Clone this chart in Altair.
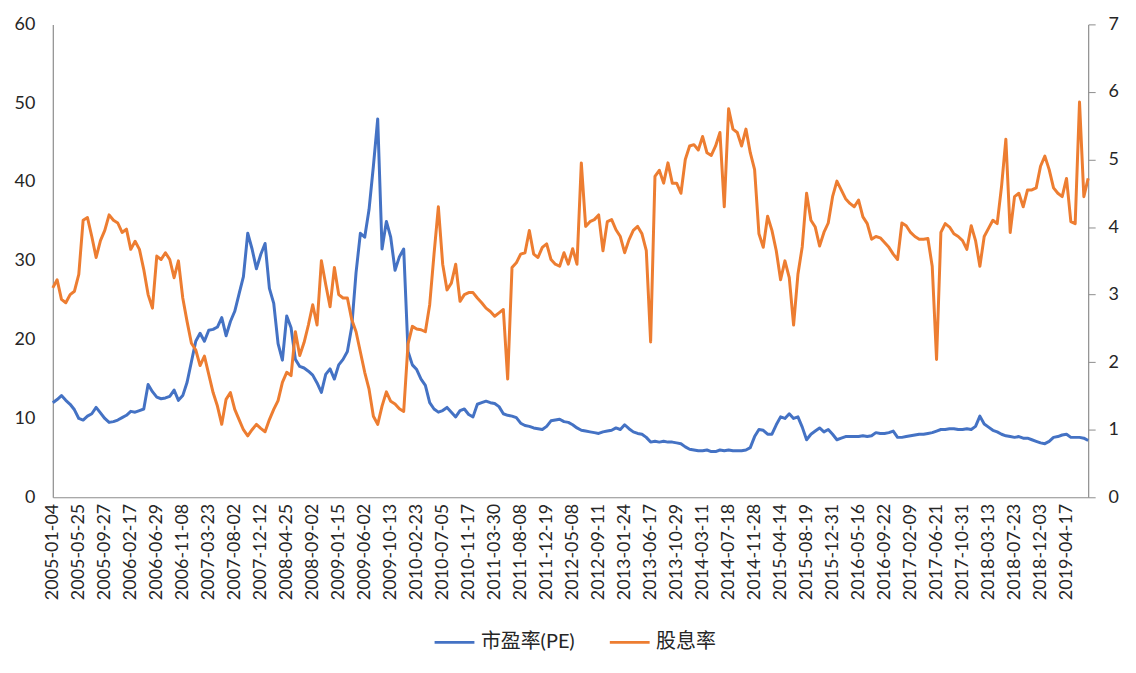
import altair as alt
import pandas as pd

# x-axis category labels (one every 6 samples)
date_labels = [
    "2005-01-04", "2005-05-25", "2005-09-27", "2006-02-17", "2006-06-29",
    "2006-11-08", "2007-03-23", "2007-08-02", "2007-12-12", "2008-04-25",
    "2008-09-02", "2009-01-15", "2009-06-02", "2009-10-13", "2010-02-23",
    "2010-07-05", "2010-11-17", "2011-03-30", "2011-08-08", "2011-12-19",
    "2012-05-08", "2012-09-11", "2013-01-24", "2013-06-17", "2013-10-29",
    "2014-03-11", "2014-07-18", "2014-11-28", "2015-04-14", "2015-08-19",
    "2015-12-31", "2016-05-16", "2016-09-22", "2017-02-09", "2017-06-21",
    "2017-10-31", "2018-03-13", "2018-07-23", "2018-12-03", "2019-04-17",
]
STEP = 6

series_names = ["市盈率(PE)", "股息率"]
series_colors = ["#4472C4", "#ED7D31"]

pe = [
    12.0, 12.4, 12.9, 12.3, 11.8, 11.1, 10.0, 9.8, 10.3, 10.6,
    11.4, 10.7, 10.0, 9.5, 9.6, 9.8, 10.1, 10.4, 10.9, 10.8,
    11.0, 11.2, 14.3, 13.4, 12.7, 12.5, 12.6, 12.8, 13.6, 12.3,
    12.9, 14.6, 17.2, 19.8, 20.8, 19.8, 21.2, 21.3, 21.6, 22.8,
    20.5, 22.3, 23.6, 25.8, 28.0, 33.5, 31.5, 29.0, 30.8, 32.2,
    26.5, 24.6, 19.5, 17.4, 23.0, 21.5, 17.5, 16.6, 16.4, 16.0,
    15.5, 14.5, 13.3, 15.6, 16.3, 15.0, 16.8, 17.5, 18.5, 21.6,
    28.5, 33.5, 33.0, 36.5, 42.0, 48.0, 31.5, 35.0, 33.0, 28.8,
    30.5, 31.5, 18.5, 16.8, 16.2, 15.0, 14.2, 12.0, 11.2, 10.8,
    11.0, 11.4, 10.8, 10.2, 11.0, 11.2, 10.5, 10.2, 11.8, 12.0,
    12.2, 12.0, 11.9, 11.5, 10.6, 10.4, 10.3, 10.1, 9.4, 9.1,
    9.0, 8.8, 8.7, 8.6, 9.0, 9.7, 9.8, 9.9, 9.6, 9.5,
    9.2, 8.8, 8.5, 8.4, 8.3, 8.2, 8.1, 8.3, 8.4, 8.5,
    8.8, 8.6, 9.2, 8.7, 8.3, 8.1, 8.0, 7.6, 7.0, 7.1,
    7.0, 7.1, 7.0, 7.0, 6.9, 6.8, 6.4, 6.1, 6.0, 5.9,
    5.9, 6.0, 5.8, 5.8, 6.0, 5.9, 6.0, 5.9, 5.9, 5.9,
    6.0, 6.3, 7.7, 8.6, 8.5, 8.0, 8.0, 9.2, 10.2, 10.0,
    10.6, 10.0, 10.2, 8.9, 7.3, 8.0, 8.4, 8.8, 8.3, 8.6,
    8.0, 7.3, 7.5, 7.7, 7.7, 7.7, 7.7, 7.8, 7.7, 7.8,
    8.2, 8.1, 8.1, 8.2, 8.4, 7.6, 7.6, 7.7, 7.8, 7.9,
    8.0, 8.0, 8.1, 8.2, 8.4, 8.6, 8.6, 8.7, 8.7, 8.6,
    8.6, 8.7, 8.6, 9.0, 10.3, 9.3, 8.9, 8.5, 8.3, 8.0,
    7.8, 7.7, 7.6, 7.7, 7.5, 7.5, 7.3, 7.1, 6.9, 6.8,
    7.1, 7.6, 7.7, 7.9, 8.0, 7.6, 7.6, 7.6, 7.5, 7.2,
]

dy = [
    3.10, 3.22, 2.93, 2.88, 3.00, 3.05, 3.30, 4.10, 4.14, 3.86,
    3.55, 3.80, 3.95, 4.18, 4.10, 4.06, 3.92, 3.97, 3.67, 3.79,
    3.67, 3.37, 3.00, 2.80, 3.57, 3.52, 3.62, 3.52, 3.25, 3.50,
    2.95, 2.60, 2.28, 2.18, 1.95, 2.09, 1.82, 1.55, 1.35, 1.08,
    1.45, 1.55, 1.30, 1.15, 1.00, 0.91, 1.00, 1.08, 1.02, 0.97,
    1.15, 1.30, 1.43, 1.70, 1.85, 1.80, 2.45, 2.10, 2.29, 2.55,
    2.85, 2.55, 3.50, 3.15, 2.82, 3.40, 3.00, 2.95, 2.95, 2.63,
    2.45, 2.15, 1.85, 1.60, 1.20, 1.08, 1.35, 1.56, 1.42, 1.38,
    1.31, 1.27, 2.27, 2.53, 2.49, 2.48, 2.45, 2.85, 3.60, 4.30,
    3.45, 3.07, 3.17, 3.45, 2.90, 3.00, 3.03, 3.03, 2.95, 2.88,
    2.80, 2.75, 2.68, 2.73, 2.78, 1.75, 3.40, 3.47, 3.60, 3.62,
    3.95, 3.60, 3.55, 3.70, 3.75, 3.52, 3.45, 3.42, 3.62, 3.45,
    3.68, 3.45, 4.95, 4.01, 4.08, 4.11, 4.18, 3.65, 4.08, 4.11,
    3.96, 3.86, 3.62, 3.81, 3.95, 4.01, 3.90, 3.65, 2.30, 4.75,
    4.84, 4.65, 4.95, 4.65, 4.65, 4.50, 5.00, 5.20, 5.22, 5.14,
    5.34, 5.10, 5.06, 5.20, 5.40, 4.30, 5.75, 5.45, 5.40, 5.20,
    5.45, 5.10, 4.85, 3.90, 3.70, 4.16, 3.95, 3.65, 3.22, 3.50,
    3.25, 2.55, 3.30, 3.71, 4.50, 4.10, 4.00, 3.72, 3.92, 4.06,
    4.45, 4.68, 4.55, 4.42, 4.35, 4.30, 4.40, 4.15, 4.05, 3.82,
    3.86, 3.84, 3.77, 3.70, 3.60, 3.52, 4.06, 4.02, 3.92, 3.86,
    3.82, 3.82, 3.83, 3.42, 2.04, 3.92, 4.05, 4.00, 3.90, 3.86,
    3.80, 3.67, 4.02, 3.80, 3.42, 3.86, 3.98, 4.10, 4.05, 4.60,
    5.30, 3.92, 4.45, 4.50, 4.30, 4.55, 4.55, 4.58, 4.90, 5.05,
    4.85, 4.58, 4.50, 4.45, 4.72, 4.08, 4.05, 5.85, 4.45, 4.72,
]

n = len(pe)
rows = []
for i in range(n):
    rows.append({"i": i, "series": series_names[0], "value": pe[i]})
for i in range(n):
    rows.append({"i": i, "series": series_names[1], "value": dy[i]})
df = pd.DataFrame(rows)

label_js = "[" + ",".join("'" + d + "'" for d in date_labels) + "]"
tick_vals = [k * STEP for k in range(len(date_labels))]

AXIS_GRAY = "#8C8C8C"
TEXT = "#262626"
FONT = "Lato, 'Noto Sans CJK SC'"

x_enc = alt.X(
    "i:Q",
    scale=alt.Scale(domain=[0, n - 1], nice=False, zero=False),
    axis=alt.Axis(
        values=tick_vals,
        labelExpr=label_js + "[round(datum.value/" + str(STEP) + ")]",
        labelAngle=-90,
        labelPadding=6,
        ticks=False,
        grid=False,
        title=None,
        domainColor=AXIS_GRAY,
        labelOverlap=False,
        labelFlush=False,
    ),
)

color_enc = alt.Color(
    "series:N",
    scale=alt.Scale(domain=series_names, range=series_colors),
    legend=alt.Legend(
        orient="none",
        legendX=382,
        legendY=599,
        direction="horizontal",
        title=None,
        symbolType="stroke",
        symbolSize=1600,
        symbolStrokeWidth=3,
        labelFontSize=20,
        labelFont=FONT,
        labelColor=TEXT,
        labelOffset=5,
        columnPadding=28,
    ),
)

pe_line = (
    alt.Chart(df)
    .transform_filter(alt.datum.series == series_names[0])
    .mark_line(strokeWidth=3, strokeJoin="round")
    .encode(
        x=x_enc,
        y=alt.Y(
            "value:Q",
            scale=alt.Scale(domain=[0, 60], nice=False),
            axis=alt.Axis(
                values=[0, 10, 20, 30, 40, 50, 60],
                ticks=False,
                labelPadding=18,
                grid=False,
                title=None,
                domainColor=AXIS_GRAY,
            ),
        ),
        color=color_enc,
    )
)

dy_line = (
    alt.Chart(df)
    .transform_filter(alt.datum.series == series_names[1])
    .mark_line(strokeWidth=3, strokeJoin="round")
    .encode(
        x=x_enc,
        y=alt.Y(
            "value:Q",
            scale=alt.Scale(domain=[0, 7], nice=False),
            axis=alt.Axis(
                orient="right",
                values=[0, 1, 2, 3, 4, 5, 6, 7],
                ticks=True,
                tickSize=7,
                tickColor=AXIS_GRAY,
                labelPadding=13,
                grid=False,
                title=None,
                domainColor=AXIS_GRAY,
            ),
        ),
        color=color_enc,
    )
)

chart = (
    alt.layer(pe_line, dy_line)
    .resolve_scale(y="independent")
    .properties(
        width=1040,
        height=475,
        padding={"left": 45, "top": 15, "right": 40, "bottom": 165},
        autosize=alt.AutoSizeParams(type="none"),
    )
    .configure_view(stroke=None)
    .configure_axis(
        labelFont=FONT,
        labelFontSize=18,
        labelColor=TEXT,
        domainWidth=1.2,
    )
)

chart.save("out.html", embed_options={"renderer": "svg", "actions": False})
